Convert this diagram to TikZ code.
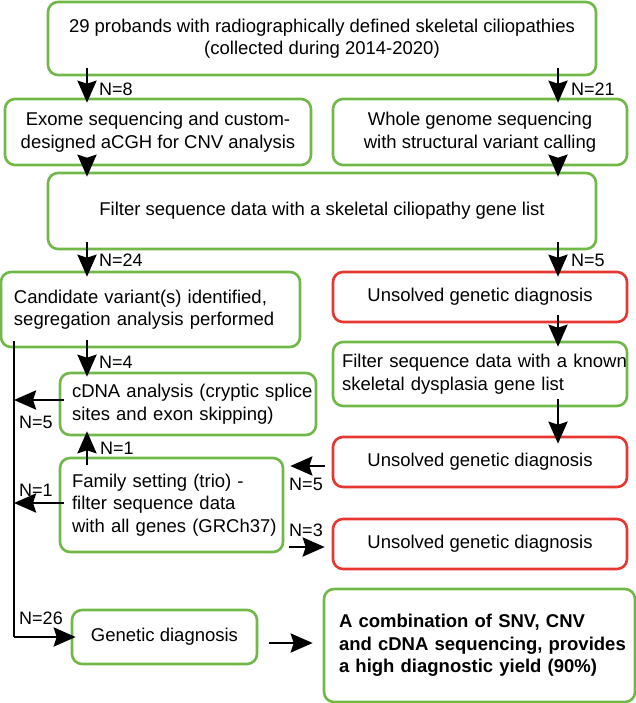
\documentclass[tikz,border=0pt]{standalone}
\usepackage{fontspec}
\setmainfont{Liberation Sans}
\usetikzlibrary{arrows.meta}
\definecolor{bgreen}{RGB}{112,184,72}
\definecolor{bred}{RGB}{230,54,48}
\tikzset{
  box/.style={draw=bgreen, line width=2.6pt, rounded corners=10pt, inner sep=0pt,
    font=\fontsize{18.5}{22.5}\selectfont},
  redbox/.style={box, draw=bred},
  lbox/.style={box, text width=#1, align=left},
  arr/.style={line width=2.8pt, -{Stealth[length=22pt,width=19pt,inset=3pt]}},
  plain/.style={line width=2.8pt},
  lab/.style={inner sep=0pt, font=\fontsize{18}{20}\selectfont}
}
\begin{document}
\begin{tikzpicture}[x=1pt,y=-1pt]
\useasboundingbox (0,0) rectangle (636,703);
% boxes
\node[box, minimum width=548, minimum height=73, align=center] (top) at (322,38.5)
  {29 probands with radiographically defined skeletal ciliopathies\\(collected during 2014-2020)};
\node[box, minimum width=306, minimum height=66, align=center] (exome) at (158,132)
  {Exome sequencing and custom-\\designed aCGH for CNV analysis};
\node[box, minimum width=294, minimum height=66, align=center] (wgs) at (480,132)
  {Whole genome sequencing\\with structural variant calling};
\node[box, minimum width=548, minimum height=76, align=center] (filter) at (322,211)
  {Filter sequence data with a skeletal ciliopathy gene list};
\node[lbox=299pt, minimum height=75] (cand) at (150.5,309.5)
  {\hspace*{13pt}Candidate variant(s) identified,\\\hspace*{13pt}segregation analysis performed};
\node[redbox, minimum width=294, minimum height=50, align=center] (uns1) at (480,297)
  {Unsolved genetic diagnosis};
\node[lbox=294pt, minimum height=64] (filt2) at (480,374)
  {\hspace*{9pt}Filter sequence data with a known\\\hspace*{9pt}skeletal dysplasia gene list};
\node[lbox=256pt, minimum height=62] (cdna) at (188,404)
  {\hspace*{12pt}cDNA analysis (cryptic splice\\\hspace*{12pt}sites and exon skipping)};
\node[redbox, minimum width=294, minimum height=50, align=center] (uns2) at (480,462)
  {Unsolved genetic diagnosis};
\node[lbox=223pt, minimum height=94] (fam) at (171.5,505)
  {\hspace*{12pt}Family setting (trio) -\\\hspace*{12pt}filter sequence data\\\hspace*{12pt}with all genes (GRCh37)};
\node[redbox, minimum width=294, minimum height=50, align=center] (uns3) at (480,544)
  {Unsolved genetic diagnosis};
\node[box, minimum width=185, minimum height=54, align=center] (gen) at (164.5,637)
  {Genetic diagnosis};
\node[lbox=311pt, minimum height=113,
  font=\fontsize{18.5}{22.5}\selectfont\bfseries] (final) at (479.5,645.5)
  {\hspace*{15pt}A combination of SNV, CNV\\\hspace*{15pt}and cDNA sequencing, provides\\\hspace*{15pt}a high diagnostic yield (90\%)};
% column coordinates
\coordinate (cL) at (87,0);
\coordinate (cR) at (558,0);
\coordinate (vL) at (14,0);
\coordinate (vEnd) at (14,637);
% arrows
\draw[arr, shorten <=-8pt, shorten >=-5pt] (top.south -| cL) -- (exome.north -| cL);
\draw[arr, shorten <=-8pt, shorten >=-5pt] (top.south -| cR) -- (wgs.north -| cR);
\draw[arr, shorten <=-8pt, shorten >=-5pt] (exome.south -| cL) -- (filter.north -| cL);
\draw[arr, shorten <=-8pt, shorten >=-5pt] (wgs.south -| cR) -- (filter.north -| cR);
\draw[arr, shorten <=-8pt, shorten >=-6pt] (filter.south -| cL) -- (cand.north -| cL);
\draw[arr, shorten <=-8pt, shorten >=-6pt] (filter.south -| cR) -- (uns1.north -| cR);
\draw[arr, shorten <=-8pt, shorten >=-6pt] (uns1.south -| cR) -- (filt2.north -| cR);
\draw[arr, shorten <=-8pt, shorten >=-8pt] (filt2.south -| cR) -- (uns2.north -| cR);
\draw[arr, shorten <=-8pt, shorten >=-5pt] (cand.south -| cL) -- (cdna.north -| cL);
\draw[arr, shorten <=-8pt, shorten >=-5pt] (fam.north -| cL) -- (cdna.south -| cL);
\draw[arr, shorten <=7pt, shorten >=6pt] (uns2.west |- 0,466) -- (fam.east |- 0,466);
\draw[arr, shorten <=5pt, shorten >=7pt] (fam.east |- 0,547) -- (uns3.west |- 0,547);
\draw[plain] (cand.south -| vL) ++(0,-7) -- (vEnd);
\draw[arr, shorten >=-5pt] (vEnd) -- (gen.west);
\draw[arr, shorten <=-5pt] (cdna.west |- 0,400) -- (vL |- 0,400);
\draw[arr, shorten <=-5pt] (fam.west |- 0,503) -- (vL |- 0,503);
\draw[arr, shorten <=11pt, shorten >=10pt] (gen.east |- 0,643) -- (final.west |- 0,643);
% labels
\node[lab, anchor=west] (n8) at (99,89) {N=8};
\node[lab, anchor=west] (n21) at (571,89) {N=21};
\node[lab, anchor=west] (n24) at (99,260) {N=24};
\node[lab, anchor=west] (n5a) at (571,260) {N=5};
\node[lab, anchor=west] (n4) at (99,362) {N=4};
\node[lab] (n5b) at (36,422) {N=5};
\node[lab, anchor=west] (n1a) at (100,448) {N=1};
\node[lab] (n5c) at (306,484) {N=5};
\node[lab] (n1b) at (36,490) {N=1};
\node[lab] (n3) at (306,530) {N=3};
\node[lab] (n26) at (41,618) {N=26};
\end{tikzpicture}
\end{document}
